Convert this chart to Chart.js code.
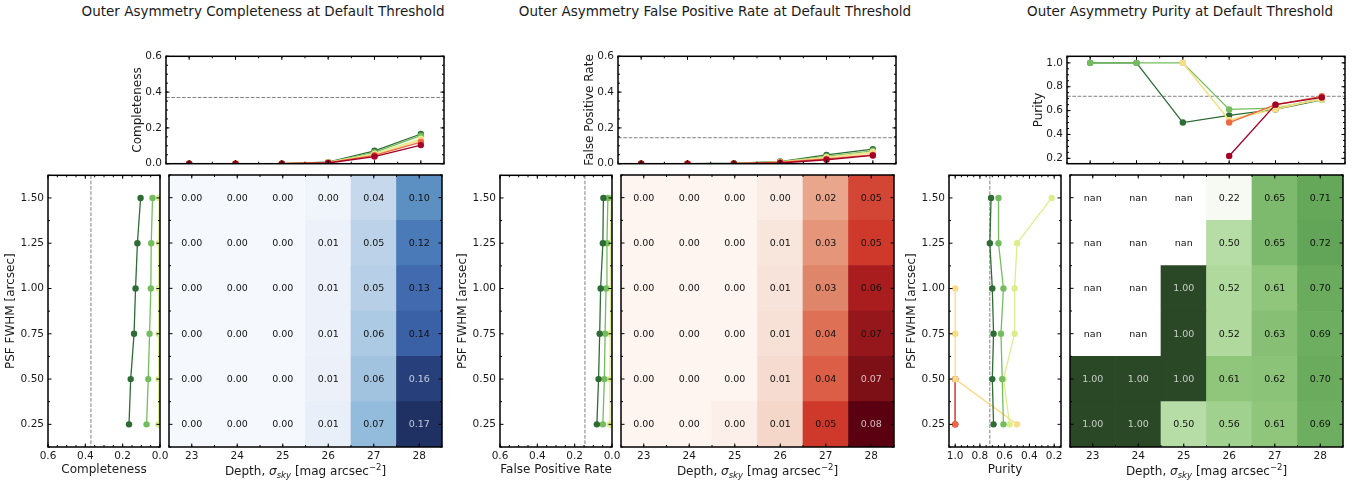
<!DOCTYPE html>
<html>
<head>
<meta charset="utf-8">
<script src="https://cdn.jsdelivr.net/npm/chart.js@4.4.1/dist/chart.umd.min.js"></script>
<style>
body{margin:0;background:#fff;width:1368px;height:483px;position:relative;overflow:hidden;font-family:"DejaVu Sans",sans-serif;color:#1a1a1a}
canvas{position:absolute}
.title{position:absolute;top:3px;font-size:13.5px;line-height:16px;white-space:nowrap;transform:translateX(-50%)}
.xlab{position:absolute;top:464px;font-size:12px;line-height:14px;white-space:nowrap;transform:translateX(-50%)}
.xlab sub,.xlab sup{font-size:8.5px;line-height:0}
</style>
</head>
<body>
<script>
// grid of the simulation: depth along x, PSF FWHM along y
const depths = [23, 24, 25, 26, 27, 28];
const psf = [0.25, 0.50, 0.75, 1.00, 1.25, 1.50];

// rows = PSF FWHM (0.25 -> 1.50), columns = depth (23 -> 28)
const completeness = [
    [0, 0, 0, 0.009, 0.072, 0.166],
    [0, 0, 0, 0.008, 0.063, 0.157],
    [0, 0, 0, 0.007, 0.056, 0.139],
    [0, 0, 0, 0.007, 0.049, 0.131],
    [0, 0, 0, 0.006, 0.047, 0.121],
    [0, 0, 0, 0.004, 0.040, 0.104]
];
const falsePositive = [
    [0, 0, 0.003, 0.012, 0.049, 0.081],
    [0, 0, 0, 0.011, 0.041, 0.072],
    [0, 0, 0, 0.010, 0.037, 0.066],
    [0, 0, 0, 0.009, 0.032, 0.061],
    [0, 0, 0, 0.008, 0.027, 0.049],
    [0, 0, 0, 0.004, 0.022, 0.046]
];
const purity = [
    [1.00, 1.00, 0.50, 0.56, 0.61, 0.69],
    [1.00, 1.00, 1.00, 0.61, 0.62, 0.70],
    [null, null, 1.00, 0.52, 0.63, 0.69],
    [null, null, 1.00, 0.52, 0.61, 0.70],
    [null, null, null, 0.50, 0.65, 0.72],
    [null, null, null, 0.22, 0.65, 0.71]
];
const compThreshold = 0.37;
const fprThreshold = 0.145;
const purityThreshold = 0.72;

// red -> dark green, one colour per row/column
const seriesColors = ["#a50026", "#ee6842", "#fbdb86", "#dbee8c", "#74bd5e", "#2e6b35"];
const blueStops = [[0,245,249,254],[0.06,232,238,248],[0.24,198,216,236],[0.43,148,188,220],[0.63,91,143,195],[0.73,74,122,184],[0.84,58,95,165],[0.95,38,63,122],[1,31,48,98]];
const redStops = [[0,254,245,240],[0.12,247,226,216],[0.27,234,166,140],[0.40,223,132,104],[0.5,221,96,72],[0.6,207,58,44],[0.75,170,29,31],[0.89,125,15,22],[1,91,0,16]];
const greenStops = [[0,246,250,243],[0.36,183,221,166],[0.5,143,198,123],[0.63,101,168,90],[0.8,70,120,62],[1,42,71,38]];

const groupX = [0, 452, 901];
const TOP = {x: 166, y: 56, w: 278, h: 110};
const SIDE = {x: 48, y: 175, w: 112, h: 272};
const HEAT = {x: 169, y: 175, w: 273, h: 272};

Chart.defaults.font.family = "DejaVu Sans";
Chart.defaults.font.size = 10.5;
Chart.defaults.color = "#1a1a1a";
Chart.defaults.animation = false;
Chart.defaults.responsive = false;
Chart.defaults.plugins.legend.display = false;
Chart.defaults.plugins.tooltip.enabled = false;

function steps(a, b, s){
    const out = [];
    for(let v = a; v <= b + 1e-9; v += s) out.push(Math.round(v * 1e4) / 1e4);
    return out;
}

function cmap(stops, t){
    t = Math.max(0, Math.min(1, t));
    for(let k = 1; k < stops.length; k++){
        if(t <= stops[k][0]){
            const a = stops[k-1], b = stops[k];
            const f = (t - a[0]) / (b[0] - a[0]);
            const c = [1,2,3].map(n => Math.round(a[n] + (b[n] - a[n]) * f));
            return "rgb(" + c.join(",") + ")";
        }
    }
    return "#000";
}

function addCanvas(x, y, w, h){
    const c = document.createElement("canvas");
    c.width = w; c.height = h;
    c.style.left = x + "px"; c.style.top = y + "px";
    document.body.appendChild(c);
    return c;
}

function addText(cls, x, html){
    const d = document.createElement("div");
    d.className = cls;
    d.style.left = x + "px";
    d.innerHTML = html;
    document.body.appendChild(d);
}

// matplotlib-like frame, inward ticks on all sides, dashed threshold
const mplAxes = {
    id: "mpl",
    beforeDatasetsDraw(chart, args, o){
        const {ctx, chartArea: a, scales: {x, y}} = chart;
        ctx.save();
        ctx.strokeStyle = "#808080";
        ctx.lineWidth = 1;
        ctx.setLineDash([3.7, 1.6]);
        ctx.beginPath();
        if(o.hLine != null){
            const py = y.getPixelForValue(o.hLine);
            ctx.moveTo(a.left, py); ctx.lineTo(a.right, py);
        }
        if(o.vLine != null){
            const px = x.getPixelForValue(o.vLine);
            ctx.moveTo(px, a.top); ctx.lineTo(px, a.bottom);
        }
        ctx.stroke();
        ctx.restore();
    },
    afterDatasetsDraw(chart, args, o){
        const {ctx, chartArea: a, scales: {x, y}} = chart;
        ctx.save();
        ctx.strokeStyle = "#000";
        ctx.lineWidth = 1;
        const tickX = (vals, len) => vals.forEach(v => {
            const p = x.getPixelForValue(v);
            ctx.beginPath();
            ctx.moveTo(p, a.bottom); ctx.lineTo(p, a.bottom - len);
            ctx.moveTo(p, a.top); ctx.lineTo(p, a.top + len);
            ctx.stroke();
        });
        const tickY = (vals, len) => vals.forEach(v => {
            const p = y.getPixelForValue(v);
            ctx.beginPath();
            ctx.moveTo(a.left, p); ctx.lineTo(a.left + len, p);
            ctx.moveTo(a.right, p); ctx.lineTo(a.right - len, p);
            ctx.stroke();
        });
        tickX(o.xMinor, 2); tickX(o.xMajor, 3.5);
        tickY(o.yMinor, 2); tickY(o.yMajor, 3.5);
        ctx.lineWidth = 1.5;
        ctx.strokeRect(a.left, a.top, a.right - a.left, a.bottom - a.top);
        ctx.restore();
    }
};

// value written in each heatmap cell
const cellText = {
    id: "cells",
    afterDatasetsDraw(chart, args, o){
        const {ctx, scales: {x, y}} = chart;
        ctx.save();
        ctx.font = "9.5px 'DejaVu Sans'";
        ctx.textAlign = "center";
        ctx.textBaseline = "middle";
        o.values.forEach((row, i) => row.forEach((v, j) => {
            const t = v == null ? 0 : (v - o.vmin) / (o.vmax - o.vmin);
            ctx.fillStyle = (v != null && t > 0.88) ? "rgba(255,255,255,0.72)" : "#111";
            ctx.fillText(v == null ? "nan" : v.toFixed(2), x.getPixelForValue(j), y.getPixelForValue(psf[i]) + 0.5);
        }));
        ctx.restore();
    }
};

const half = (psf[1] - psf[0]) / 2;
const psfMin = psf[0] - half, psfMax = psf[psf.length - 1] + half;
const psfMinor = steps(psfMin, psfMax, 2 * half);

const panels = [
    {title: "Outer Asymmetry Completeness at Default Threshold", label: "Completeness", values: completeness,
     thr: compThreshold, stops: blueStops, titleX: 263,
     topRange: [0, 0.6], sideRange: [0, 0.6], ticks: [0, 0.2, 0.4, 0.6], topMinor: steps(0, 0.6, 0.05), sideMinor: steps(0, 0.6, 0.05)},
    {title: "Outer Asymmetry False Positive Rate at Default Threshold", label: "False Positive Rate", values: falsePositive,
     thr: fprThreshold, stops: redStops, titleX: 715,
     topRange: [0, 0.6], sideRange: [0, 0.6], ticks: [0, 0.2, 0.4, 0.6], topMinor: steps(0, 0.6, 0.05), sideMinor: steps(0, 0.6, 0.05)},
    {title: "Outer Asymmetry Purity at Default Threshold", label: "Purity", values: purity,
     thr: purityThreshold, stops: greenStops, titleX: 1180,
     topRange: [0.155, 1.055], sideRange: [0.145, 1.05], ticks: [0.2, 0.4, 0.6, 0.8, 1.0], topMinor: steps(0.2, 1.05, 0.05), sideMinor: steps(0.15, 1.05, 0.05)}
];

function valueAxis(range, ticks, extra){
    return Object.assign({
        type: "linear", min: range[0], max: range[1],
        afterBuildTicks: s => { s.ticks = ticks.map(v => ({value: v})); },
        grid: {display: false, drawTicks: false},
        border: {display: false},
        ticks: {padding: 4, autoSkip: false, maxRotation: 0, callback: v => v.toFixed(1)}
    }, extra);
}

function topChart(p, gx){
    const m = {l: 50, t: 10, r: 6, b: 8};
    const cv = addCanvas(TOP.x + gx - m.l, TOP.y - m.t, TOP.w + m.l + m.r, TOP.h + m.t + m.b);
    new Chart(cv, {
        type: "line",
        data: {
            datasets: psf.map((s, i) => ({
                data: depths.map((d, j) => ({x: d, y: p.values[i][j]})),
                borderColor: seriesColors[5 - i],
                backgroundColor: seriesColors[5 - i],
                order: psf.length - i
            }))
        },
        options: {
            layout: {padding: {left: 0, top: m.t, right: m.r, bottom: m.b}},
            elements: {line: {borderWidth: 1.3, tension: 0}, point: {radius: 3.2, borderWidth: 0}},
            scales: {
                x: {type: "linear", min: depths[0] - 0.5, max: depths[depths.length - 1] + 0.5, display: false},
                y: valueAxis(p.topRange, p.ticks, {
                    afterFit: s => { s.width = m.l; },
                    title: {display: true, text: p.label, font: {size: 12}, padding: {top: 14.3}}
                })
            },
            plugins: {mpl: {hLine: p.thr, xMajor: depths, xMinor: steps(depths[0] - 0.5, depths[5] + 0.5, 0.5), yMajor: p.ticks, yMinor: p.topMinor}}
        },
        plugins: [mplAxes]
    });
}

function sideChart(p, gx){
    const m = {l: 48, t: 10, r: 10, b: 36};
    const cv = addCanvas(SIDE.x + gx - m.l, SIDE.y - m.t, SIDE.w + m.l + m.r, SIDE.h + m.t + m.b);
    new Chart(cv, {
        type: "line",
        data: {
            datasets: depths.map((d, j) => ({
                data: psf.map((s, i) => ({x: p.values[i][j], y: s})),
                borderColor: seriesColors[j],
                backgroundColor: seriesColors[j],
                order: depths.length - j
            }))
        },
        options: {
            indexAxis: "y",
            layout: {padding: {left: 0, top: m.t, right: m.r, bottom: 0}},
            elements: {line: {borderWidth: 1.3, tension: 0}, point: {radius: 3.2, borderWidth: 0}},
            scales: {
                x: valueAxis(p.sideRange, p.ticks, {
                    reverse: true,
                    afterFit: s => { s.height = m.b; },
                    ticks: {padding: 3, autoSkip: false, maxRotation: 0, callback: v => v.toFixed(1)},
                    title: {display: true, text: p.label, font: {size: 12}, padding: {bottom: 5.8}}
                }),
                y: {
                    type: "linear", min: psfMin, max: psfMax,
                    afterFit: s => { s.width = m.l; },
                    afterBuildTicks: s => { s.ticks = psf.map(v => ({value: v})); },
                    grid: {display: false, drawTicks: false},
                    border: {display: false},
                    ticks: {padding: 4, autoSkip: false, callback: v => v.toFixed(2)},
                    title: {display: true, text: "PSF FWHM [arcsec]", font: {size: 12}, padding: {top: 3.8}}
                }
            },
            plugins: {mpl: {vLine: p.thr, xMajor: p.ticks, xMinor: p.sideMinor, yMajor: psf, yMinor: psfMinor}}
        },
        plugins: [mplAxes]
    });
}

function heatChart(p, gx){
    const m = {l: 4, t: 4, r: 4, b: 36};
    const cv = addCanvas(HEAT.x + gx - m.l, HEAT.y - m.t, HEAT.w + m.l + m.r, HEAT.h + m.t + m.b);
    const flat = p.values.flat().filter(v => v != null);
    const vmin = Math.min(...flat), vmax = Math.max(...flat);
    new Chart(cv, {
        type: "bar",
        data: {
            labels: depths.map(String),
            datasets: psf.map((s, i) => ({
                data: depths.map(() => [s - half, s + half]),
                backgroundColor: p.values[i].map(v => v == null ? "#ffffff" : cmap(p.stops, (v - vmin) / (vmax - vmin))),
                grouped: false,
                barPercentage: 1,
                categoryPercentage: 1,
                borderWidth: 0
            }))
        },
        options: {
            layout: {padding: {left: m.l, top: m.t, right: m.r, bottom: 0}},
            scales: {
                x: {
                    afterFit: s => { s.height = m.b; },
                    grid: {display: false, drawTicks: false},
                    border: {display: false},
                    ticks: {padding: 3, autoSkip: false, maxRotation: 0}
                },
                y: {type: "linear", min: psfMin, max: psfMax, display: false}
            },
            plugins: {
                cells: {values: p.values, vmin: vmin, vmax: vmax},
                mpl: {xMajor: depths.map((d, j) => j), xMinor: steps(-0.5, depths.length - 0.5, 0.5), yMajor: psf, yMinor: psfMinor}
            }
        },
        plugins: [cellText, mplAxes]
    });
    addText("xlab", HEAT.x + gx + HEAT.w / 2,
        "Depth, <i>σ</i><sub><i>sky</i></sub> [mag arcsec<sup>−2</sup>]");
}

panels.forEach((p, g) => {
    addText("title", p.titleX, p.title);
    topChart(p, groupX[g]);
    sideChart(p, groupX[g]);
    heatChart(p, groupX[g]);
});
</script>
</body>
</html>
